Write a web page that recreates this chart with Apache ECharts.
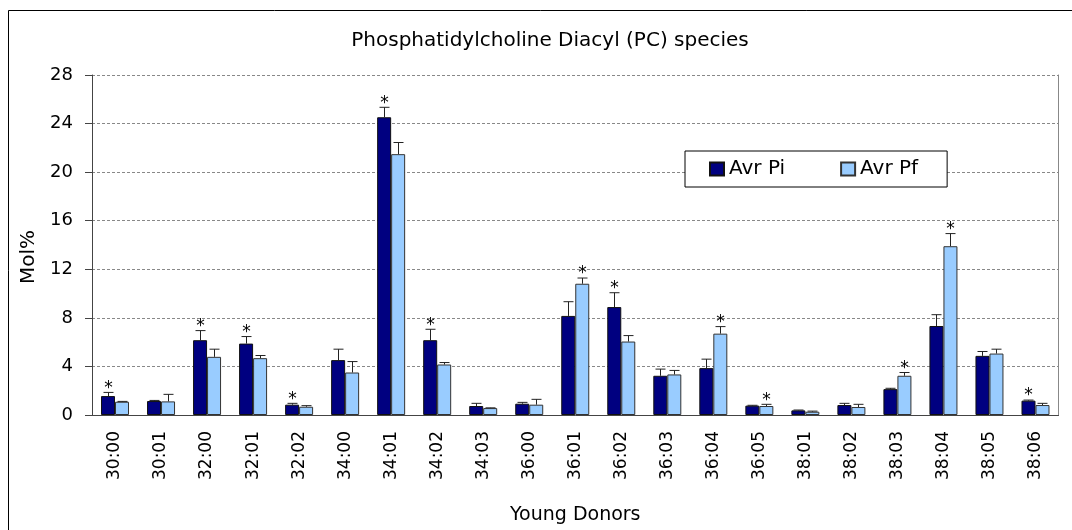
<!DOCTYPE html>
<html>
<head>
<meta charset="utf-8">
<script src="https://cdn.jsdelivr.net/npm/echarts@6/dist/echarts.min.js"></script>
<style>
  html, body { margin: 0; padding: 0; background: #fff; }
  #chart { width: 1072px; height: 530px; }
</style>
</head>
<body>
<div id="chart"></div>
<script>
// PC species (mol%), Avr Pi vs Avr Pf, upper error bars, * = significant
var categories = ["30:00", "30:01", "32:00", "32:01", "32:02", "34:00", "34:01", "34:02", "34:03", "36:00", "36:01",
  "36:02", "36:03", "36:04", "36:05", "38:01", "38:02", "38:03", "38:04", "38:05", "38:06"];
var avrPi = [1.56, 1.15, 6.16, 5.88, 0.85, 4.52, 24.52, 6.16, 0.74, 0.93, 8.16, 8.89, 3.23, 3.86, 0.77, 0.38, 0.82, 2.13, 7.33, 4.87, 1.18];
var avrPf = [1.09, 1.12, 4.79, 4.68, 0.68, 3.50, 21.48, 4.16, 0.57, 0.85, 10.81, 6.05, 3.34, 6.70, 0.74, 0.27, 0.66, 3.23, 13.90, 5.06, 0.82];
var errPi = [0.30, 0.05, 0.79, 0.58, 0.11, 0.90, 0.82, 0.90, 0.22, 0.11, 1.17, 1.18, 0.55, 0.74, 0.03, 0.03, 0.14, 0.07, 0.93, 0.36, 0.05];
var errPf = [0.03, 0.58, 0.63, 0.22, 0.09, 0.90, 0.96, 0.16, 0.02, 0.44, 0.47, 0.49, 0.33, 0.58, 0.14, 0.05, 0.22, 0.27, 1.04, 0.36, 0.14];
var sigPi = [1, 0, 1, 1, 1, 0, 1, 1, 0, 0, 0, 1, 0, 0, 0, 0, 0, 0, 0, 0, 1];
var sigPf = [0, 0, 0, 0, 0, 0, 0, 0, 0, 0, 1, 0, 0, 1, 1, 0, 0, 1, 1, 0, 0];
var yTicks = [0, 4, 8, 12, 16, 20, 24, 28];

var FONT = "DejaVu Sans";
var BAR_W = 14;

function errRows(vals, errs, sigs) {
  return vals.map(function (v, i) { return [i, v, errs[i], sigs[i]]; });
}

function errRenderer(offset) {
  return function (params, api) {
    var idx = api.value(0);
    var top = api.coord([idx, api.value(1) + api.value(2)]);
    var base = api.coord([idx, api.value(1)]);
    var x = Math.round(top[0] + offset) + 0.5;
    var kids = [
      { type: "line", shape: { x1: x, y1: base[1], x2: x, y2: top[1] }, style: { stroke: "#222", lineWidth: 1 } },
      { type: "line", shape: { x1: x - 5, y1: top[1], x2: x + 5, y2: top[1] }, style: { stroke: "#222", lineWidth: 1 } }
    ];
    if (api.value(3)) {
      kids.push({ type: "text", style: { text: "*", x: x, y: top[1] - 4, align: "center", verticalAlign: "middle",
        fill: "#000", font: "17px " + FONT } });
    }
    return { type: "group", children: kids };
  };
}

var chart = echarts.init(document.getElementById("chart"));
var option = {
  animation: false,
  backgroundColor: "#fff",
  textStyle: { fontFamily: FONT },
  title: {
    text: "Phosphatidylcholine Diacyl (PC) species",
    left: 545, top: 26, textAlign: "center",
    textStyle: { fontFamily: FONT, fontSize: 20, fontWeight: "normal", color: "#000" }
  },
  graphic: [{
    type: "rect", z: -1, silent: true,
    shape: { x: 8.5, y: 10.5, width: 1100, height: 600 },
    style: { fill: "none", stroke: "#000", lineWidth: 1 }
  }],
  legend: {
    left: 685, top: 151,
    padding: [8, 29, 8, 24],
    itemGap: 55, itemWidth: 14, itemHeight: 13,
    icon: "rect",
    backgroundColor: "#fff", borderColor: "#000", borderWidth: 1,
    textStyle: { fontFamily: FONT, fontSize: 20, color: "#000" },
    data: ["Avr Pi", "Avr Pf"]
  },
  grid: { left: 92, right: 13.5, top: 75, bottom: 114 },
  xAxis: {
    type: "category",
    data: categories,
    name: "Young Donors",
    nameLocation: "middle",
    nameGap: 91,
    nameTextStyle: { fontFamily: FONT, fontSize: 19, color: "#000" },
    axisLine: { lineStyle: { color: "#444", width: 1 } },
    axisTick: { length: 6, lineStyle: { color: "#444" } },
    axisLabel: { rotate: 90, interval: 0, margin: 16, color: "#000", fontFamily: FONT, fontSize: 17 }
  },
  yAxis: [{
    type: "value",
    min: yTicks[0], max: yTicks[yTicks.length - 1], interval: yTicks[1] - yTicks[0],
    name: "Mol%",
    nameLocation: "middle",
    nameGap: 49,
    nameRotate: 90,
    nameTextStyle: { fontFamily: FONT, fontSize: 20, color: "#000", padding: [0, 24, 0, 0] },
    axisLine: { show: true, lineStyle: { color: "#444", width: 1 } },
    axisTick: { show: true, length: 7, lineStyle: { color: "#444" } },
    axisLabel: { margin: 19, color: "#000", fontFamily: FONT, fontSize: 18 },
    splitLine: { show: true, lineStyle: { color: "#888", type: [3, 2], width: 1 } }
  }, {
    type: "value", position: "right",
    min: yTicks[0], max: yTicks[yTicks.length - 1], interval: yTicks[1] - yTicks[0],
    axisLine: { show: true, lineStyle: { color: "#888", width: 1 } },
    axisTick: { show: false }, axisLabel: { show: false }, splitLine: { show: false }
  }],
  series: [
    {
      name: "Avr Pi", type: "bar", data: avrPi, barWidth: BAR_W, barGap: "0%",
      itemStyle: { color: "#000080", borderColor: "#111", borderWidth: 1 }
    },
    {
      name: "Avr Pf", type: "bar", data: avrPf, barWidth: BAR_W, barGap: "0%",
      itemStyle: { color: "#99CCFF", borderColor: "#333", borderWidth: 1 }
    },
    {
      type: "custom", name: "errPi", data: errRows(avrPi, errPi, sigPi),
      renderItem: errRenderer(-BAR_W / 2), z: 5,
      encode: { x: 0, y: [1] }
    },
    {
      type: "custom", name: "errPf", data: errRows(avrPf, errPf, sigPf),
      renderItem: errRenderer(BAR_W / 2), z: 5,
      encode: { x: 0, y: [1] }
    }
  ]
};
chart.setOption(option);
window.addEventListener("resize", function () { chart.resize(); });
</script>
</body>
</html>
